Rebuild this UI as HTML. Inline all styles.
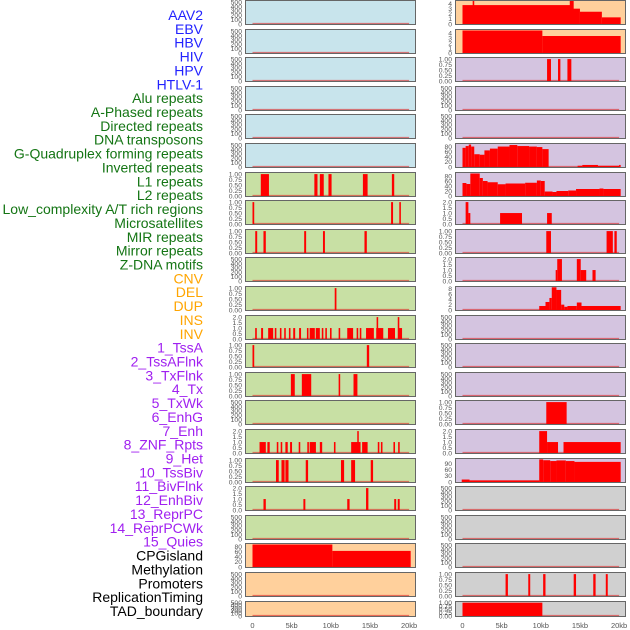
<!DOCTYPE html>
<html><head><meta charset="utf-8">
<style>
body{margin:0;background:#fff;width:630px;height:630px;overflow:hidden;font-family:"Liberation Sans",sans-serif}
svg{display:block}
</style></head>
<body>
<svg id="chart" width="630" height="630" xmlns="http://www.w3.org/2000/svg"></svg>
<script>
const trackLabels = ["AAV2","EBV","HBV","HIV","HPV","HTLV-1","Alu repeats","A-Phased repeats","Directed repeats","DNA transposons","G-Quadruplex forming repeats","Inverted repeats","L1 repeats","L2 repeats","Low_complexity A/T rich regions","Microsatellites","MIR repeats","Mirror repeats","Z-DNA motifs","CNV","DEL","DUP","INS","INV","1_TssA","2_TssAFlnk","3_TxFlnk","4_Tx","5_TxWk","6_EnhG","7_Enh","8_ZNF_Rpts","9_Het","10_TssBiv","11_BivFlnk","12_EnhBiv","13_ReprPC","14_ReprPCWk","15_Quies","CPGisland","Methylation","Promoters","ReplicationTiming","TAD_boundary"];
const labelGroups = [6,13,5,15,5];
const groupColors = ["#2222ff","#147514","#ffa500","#a020f0","#000000"];

const leftBg = ["#c8e4ec","#c8e4ec","#c8e4ec","#c8e4ec","#c8e4ec","#c8e4ec","#c8e0a4","#c8e0a4","#c8e0a4","#c8e0a4","#c8e0a4","#c8e0a4","#c8e0a4","#c8e0a4","#c8e0a4","#c8e0a4","#c8e0a4","#c8e0a4","#c8e0a4","#ffd09c","#ffd09c","#ffd09c"];
const rightBg = ["#ffd09c","#ffd09c","#d4c4e0","#d4c4e0","#d4c4e0","#d4c4e0","#d4c4e0","#d4c4e0","#d4c4e0","#d4c4e0","#d4c4e0","#d4c4e0","#d4c4e0","#d4c4e0","#d4c4e0","#d4c4e0","#d4c4e0","#d0d0d0","#d0d0d0","#d0d0d0","#d0d0d0","#d0d0d0"];

const tickSets = {
 E:["0","100","200","300","400","500"],
 U:["0.00","0.25","0.50","0.75","1.00"],
 T:["0.0","0.5","1.0","1.5","2.0"],
 F:["0","1","2","3","4"],
 G:["0","20","40","60","80"],
 H:["0","2","4","6","8"],
 N:["0","30","60","90"]
};
const leftTicks = ["E","E","E","E","E","E","U","U","U","E","U","T","U","U","E","T","U","T","E","G","E","E"];
const rightTicks = ["F","F","U","E","E","G","G","T","U","T","H","E","E","E","U","T","N","E","E","E","U","U"];
const leftMax = [525,525,525,525,525,525,1.05,1.05,1.05,525,1.05,2.1,1.05,1.05,525,2.1,1.05,2.1,525,90,525,525];
const rightMax = [4.5,4.6,1.05,525,525,90,92,2.1,1.05,2.1,8.6,525,525,525,1.05,2.1,112,525,525,525,1.05,1.05];

const leftSegs = [
 [],[],[],[],[],[],
 [[1.06,2.1,1],[7.9,8.3,1],[8.6,9.1,1],[9.7,10.1,1],[14.1,14.7,1],[17.8,18.1,1]],
 [[0,0.22,1],[17.7,17.95,1],[18.75,18.95,1]],
 [[0.35,0.6,1],[1.4,1.7,1],[6.6,6.85,1],[9.0,9.25,1],[14.3,14.6,1]],
 [],
 [[10.5,10.72,1]],
 [[0.34,0.55,1],[1.1,1.35,1],[2,2.64,1],[2.85,3.05,1],[3.5,3.7,1],[4.05,4.25,1],[4.65,4.85,1],[5.2,5.45,1],[5.95,6.2,1],[6.95,7.15,1],[7.3,7.96,1],[8.08,8.6,1],[8.85,9.05,1],[9.3,9.5,1],[9.9,10.1,1],[11,11.2,1],[12.1,12.85,1],[13.3,13.5,1],[13.7,13.9,1],[14.5,15.5,1],[15.8,16.7,1],[15.85,16.05,2],[17.3,18.2,1],[18.6,19.1,1],[18.55,18.75,2]],
 [[0,0.22,1],[14.6,14.9,1]],
 [[4.9,5.4,1],[6.3,7.5,1],[11,11.2,1],[12.9,13.4,1]],
 [],
 [[0.9,1.7,1],[1.9,2.2,1],[3.1,3.3,1],[3.6,3.8,1],[4.2,4.5,1],[4.8,5.05,1],[5.9,6.1,1],[7,7.2,1],[7.3,8.1,1],[8.6,8.9,1],[10.4,10.6,1],[12.6,13.8,1],[13.38,13.55,2],[14,14.7,1],[16,16.2,1],[16.4,16.6,1],[18,18.2,1],[18.6,18.8,1]],
 [[3,3.35,1],[3.7,4.1,1],[4.2,4.6,1],[6.8,7.1,1],[11.3,11.7,1],[12.6,13.1,1],[15.1,15.4,1]],
 [[1.4,1.7,1],[6.5,6.75,1],[12.1,12.4,1],[14.5,14.8,2],[18.1,18.35,1],[18.55,18.8,1]],
 [],
 [[0,10.2,88],[10.2,20.2,63]],
 [],[]
];
const rightSegs = [
 [[0,14,3.7],[1.3,1.5,4.5],[13.7,14.2,4.5],[14,15,3],[15,17.8,2.4],[17.8,20.2,1.3]],
 [[0,10.2,4.5],[10.2,20.2,3.4]],
 [[10.8,11.3,1],[12.2,12.5,1],[13.4,13.9,1]],
 [],[],
 [[0,0.4,75],[0.4,0.8,82],[0.8,1.1,88],[1.1,1.5,80],[1.5,2.2,50],[2.2,2.8,48],[2.8,3.5,65],[3.5,4.5,72],[4.5,6,80],[6,7,86],[7,8.5,82],[8.5,9.5,80],[9.5,10.2,78],[10.2,11,70],[14.7,15.3,5],[15.3,17.3,8],[17.3,20,5],[20,20.2,8]],
 [[0,0.5,52],[0.5,1,48],[1,2.2,90],[2.2,2.6,72],[2.6,3.2,60],[3.2,4.5,55],[4.5,5.5,47],[5.5,8,50],[8,9.5,53],[9.5,10,62],[10,10.5,60],[10.5,11.5,18],[11.5,12,16],[12,13.5,20],[13.5,14.5,22],[14.5,17.5,28],[17.5,18,30],[18,20.2,28]],
 [[0.4,0.75,2],[0.75,1,1],[4.8,7.6,1],[10.8,11.4,1]],
 [[10.7,11.3,1],[18.4,19.2,1],[19.4,19.7,1]],
 [[12.1,12.7,2],[11.9,12.1,1],[14.6,15.1,2],[15.1,15.8,1],[16.6,17,1]],
 [[9.8,10.6,1.5],[10.6,11.1,3],[11.1,11.4,4.5],[11.4,12,8.5],[12,12.6,7.5],[12.6,13,2],[13,13.4,1.2],[13.4,14.6,1.5],[14.6,15.2,2.8],[15.2,20.2,1.5]],
 [],[],[],
 [[10.7,13.3,1]],
 [[9.8,10.8,2],[10.8,12.2,1],[12.9,20.2,1]],
 [[-0.1,0.9,12],[0.9,9.8,8],[9.8,10.3,110],[10.3,11.2,106],[11.2,12,102],[12,13.2,105],[13.2,14.3,102],[14.3,20.2,98]],
 [],[],[],
 [[5.5,5.8,1],[8.4,8.65,1],[10.3,10.6,1],[14.2,14.5,1],[16.7,17,1],[18.3,18.55,1]],
 [[0,10.2,1]]
];
const xTicks = [0,5,10,15,20];
const xTickLabels = ["0","5kb","10kb","15kb","20kb"];

const NS="http://www.w3.org/2000/svg";
const svg=document.getElementById('chart');
function mk(tag,attrs,parent){const e=document.createElementNS(NS,tag);for(const k in attrs)e.setAttribute(k,attrs[k]);(parent||svg).appendChild(e);return e;}

let li=0;
labelGroups.forEach((n,g)=>{for(let k=0;k<n;k++){const t=mk('text',{x:203,y:15+li*13.86+5,'text-anchor':'end','font-size':'14',fill:groupColors[g]});


t.textContent=trackLabels[li];li++;}});

const cols=[{x0:245,x1:416,bg:leftBg,ticks:leftTicks,max:leftMax,segs:leftSegs,name:'left'},
            {x0:455,x1:626,bg:rightBg,ticks:rightTicks,max:rightMax,segs:rightSegs,name:'right'}];
function rowTop(i){return i===21?601:Math.round(i*28.6);}
function rowH(i){return i===21?16:25;}

cols.forEach(c=>{
  const xs=kb=>c.x0+7.5+kb*(156.6/20);
  for(let i=0;i<22;i++){
    const top=rowTop(i),h=rowH(i),bot=top+h;
    const g=mk('g',{});
    
    
    mk('rect',{x:c.x0,y:top,width:c.x1-c.x0,height:h,fill:c.bg[i]},g);
    const ys=v=>bot-1-v/c.max[i]*(h-2);
    mk('line',{x1:xs(0),x2:xs(20),y1:bot-1.5,y2:bot-1.5,stroke:'rgba(220,40,40,0.6)','stroke-width':1.2},g);
    c.segs[i].forEach(s=>{
      const r=mk('rect',{x:xs(s[0]),y:ys(s[2]),width:Math.max(xs(s[1])-xs(s[0]),1.5),height:ys(0)-ys(s[2]),fill:'#ff0000'},g);
      
      
    });
    mk('rect',{x:c.x0+0.5,y:top+0.5,width:c.x1-c.x0-1,height:h-1,fill:'none',stroke:'#666','stroke-width':1},g);
    const ts=tickSets[c.ticks[i]];
    ts.forEach(lbl=>{
      const v=parseFloat(lbl);
      const t=mk('text',{x:c.x0-3,y:ys(v)+2.3,'text-anchor':'end','font-size':'6.8',fill:'#555'},g);
      
      
      t.textContent=lbl;
    });
  }
  xTicks.forEach((v,k)=>{
    const t=mk('text',{x:xs(v),y:628,'text-anchor':'middle','font-size':'7.5',fill:'#555'});
    
    
    t.textContent=xTickLabels[k];
  });
});
</script>
</body></html>
